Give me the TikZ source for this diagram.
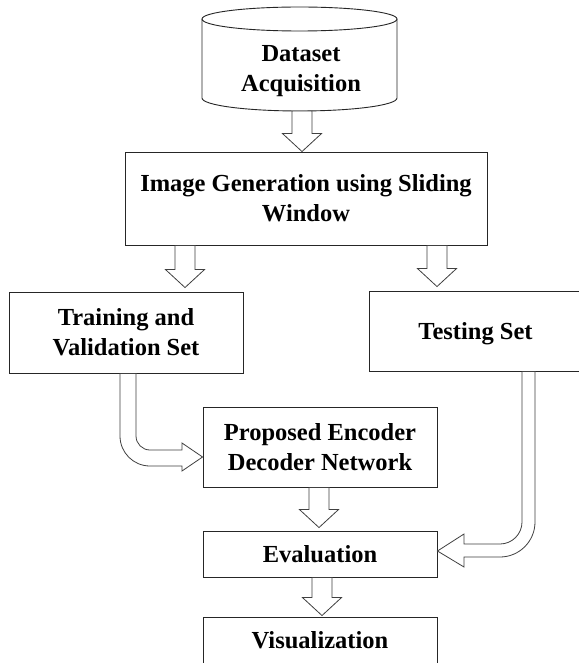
\documentclass[tikz,border=0pt]{standalone}
\usepackage{fontspec}
\setmainfont{Liberation Serif}
\usetikzlibrary{calc}
\newcommand\blockdown[4][0]{% #1 gap, #2 x, #3 source point, #4 target point
  \draw[barrow] (#2-10,0 |- #3) -- ($(#2-10,0 |- #4)+(0,-18-#1)$) -- ($(#2-19.5,0 |- #4)+(0,-18-#1)$)
    -- ($(#2,0 |- #4)+(0,-#1)$) -- ($(#2+19.5,0 |- #4)+(0,-18-#1)$) -- ($(#2+10,0 |- #4)+(0,-18-#1)$)
    -- (#2+10,0 |- #3) -- cycle;}
\begin{document}
\begin{tikzpicture}[x=1pt,y=-1pt,
  lbl/.style={font=\bfseries\fontsize{24.5}{30}\selectfont, align=center, inner sep=0pt},
  box/.style={lbl, draw=black!85, line width=0.9pt, fill=white},
  cyl/.style={draw=black!85, line width=0.9pt},
  barrow/.style={draw=black!75, line width=0.8pt, fill=white, line join=miter}]
\useasboundingbox[fill=white] (0,0) rectangle (578,663);

% cylinder (dataset)
\draw[cyl] (202,19) -- (202,98) arc[start angle=180,end angle=360,x radius=97.5pt,y radius=13pt] -- (397,19);
\draw[cyl] (299.5,19) ellipse[x radius=97.5pt,y radius=12pt];
\node[lbl] (ds) at (301,71) {Dataset\\Acquisition};
\coordinate (dsbot) at (299.5,111);

% boxes
\node[box, minimum width=362pt, minimum height=93pt] (img) at (306,198.5) {Image Generation using Sliding\\Window};
\node[box, minimum width=234pt, minimum height=81pt] (train) at (126,332.5) {Training and\\Validation Set};
\node[box, minimum width=213pt, minimum height=80pt, text depth=0pt] (test) at (475.5,331) {Testing Set};
\node[box, minimum width=234pt, minimum height=80pt] (prop) at (320,447) {Proposed Encoder\\Decoder Network};
\node[box, minimum width=234pt, minimum height=46pt, text depth=0pt] (eval) at (320,554) {Evaluation};
\node[box, minimum width=234pt, minimum height=48pt, text depth=2pt] (vis) at (320,641) {Visualization};

% straight block arrows
\blockdown{302}{dsbot}{img.north}
\blockdown[4]{185}{img.south}{train.north}
\blockdown[4]{437}{img.south}{test.north}
\blockdown[3]{319}{prop.south}{eval.north}
\blockdown[1]{322}{eval.south}{vis.north}

% curved block arrows
\draw[barrow] (120,0 |- train.south) -- (120,436) .. controls (120,452.6) and (133.4,466) .. (150,466)
  -- (182,466) -- (182,471) -- (prop.west |- 0,457) -- (182,443) -- (182,450) -- (150,450)
  .. controls (142.3,450) and (136,443.7) .. (136,436) -- (136,0 |- train.south) -- cycle;
\draw[barrow] (535,0 |- test.south) -- (535,522) .. controls (535,541.3) and (519.3,557) .. (500,557)
  -- (464,557) -- (464,567) -- (eval.east |- 0,551) -- (464,534) -- (464,544) -- (500,544)
  .. controls (512.1,544) and (522,534.1) .. (522,522) -- (522,0 |- test.south) -- cycle;
\end{tikzpicture}
\end{document}
